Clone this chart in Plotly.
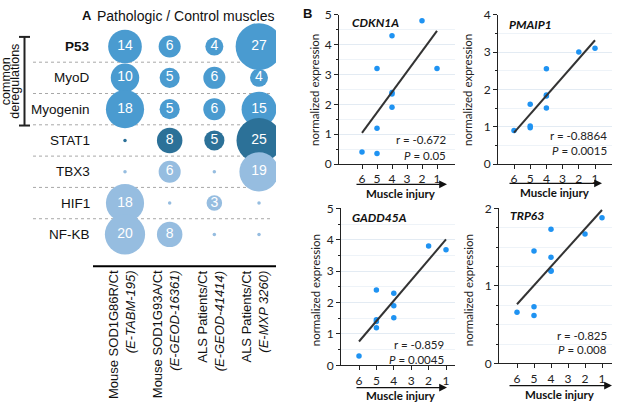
import numpy as np
import plotly.graph_objects as go

W, H = 617, 409

# ---------------- Panel A data ----------------
genes = ["P53", "MyoD", "Myogenin", "STAT1", "TBX3", "HIF1", "NF-KB"]
dataset_names = ["Mouse SOD1G86R/Ct", "Mouse SOD1G93A/Ct", "ALS Patients/Ct", "ALS Patients/Ct"]
dataset_ids = ["(E-TABM-195)", "(E-GEOD-16361)", "(E-GEOD-41414)", "(E-MXP 3260)"]
p53_counts = [14, 6, 4, 27]
myod_counts = [10, 5, 6, 4]
myogenin_counts = [18, 5, 6, 15]
stat1_counts = [0, 8, 5, 25]
tbx3_counts = [0, 6, 0, 19]
hif1_counts = [18, 0, 3, 0]
nfkb_counts = [20, 8, 0, 0]
counts = [p53_counts, myod_counts, myogenin_counts, stat1_counts,
          tbx3_counts, hif1_counts, nfkb_counts]
row_colors = ["#4a9bd0", "#4a9bd0", "#4a9bd0", "#2c7198", "#96bde0", "#96bde0", "#96bde0"]

# ---------------- Panel B data ----------------
cdkn1a_injury = [6, 5, 5, 5, 4, 4, 4, 4, 2, 1]
cdkn1a_expr = [0.4, 0.35, 1.2, 3.2, 4.3, 2.4, 2.35, 1.9, 4.8, 3.2]
pmaip1_injury = [6, 5, 5, 5, 4, 4, 4, 4, 2, 1]
pmaip1_expr = [0.9, 1.6, 1.02, 0.97, 2.55, 1.85, 1.82, 1.5, 3.0, 3.1]
gadd45a_injury = [6, 5, 5, 5, 5, 4, 4, 4, 2, 1]
gadd45a_expr = [0.3, 2.4, 1.45, 1.4, 1.2, 2.3, 1.9, 1.52, 3.8, 3.68]
trp63_injury = [6, 5, 5, 5, 4, 4, 4, 4, 2, 1]
trp63_expr = [0.66, 1.45, 0.73, 0.62, 1.73, 1.37, 1.2, 1.19, 1.67, 1.88]
r_labels = ["r = -0.672", "r = -0.8864", "r = -0.859", "r = -0.825"]
p_labels = ["0.05", "0.0015", "0.0045", "0.008"]
gene_names_b = ["CDKN1A", "PMAIP1", "GADD45A", "TRP63"]
injury_ticks = [6, 5, 4, 3, 2, 1]


def px(p):
    return p / W


def py(p):
    return 1 - p / H


fig = go.Figure()
FA = "Liberation Sans, Arial, sans-serif"
FB = "Lato, Open Sans, sans-serif"

# ---------------- Panel A ----------------
row_step = 32.5
row0 = 40
ya_top, ya_bot = 0, 268
col0, col_step = 125, 44.67
xa_l, xa_r = 33, 276
xr = [(xa_l - col0) / col_step, (xa_r - col0) / col_step]
yr = [(ya_bot - row0) / row_step, (ya_top - row0) / row_step]

for i, row in enumerate(counts):
    xs = list(range(len(row)))
    ys = [i] * len(row)
    sizes = [9 * np.sqrt(v) if v > 0 else 3.5 for v in row]
    texts = [str(v) if v > 0 else "" for v in row]
    fig.add_trace(go.Scatter(
        x=xs, y=ys, mode="markers+text", text=texts,
        textposition="middle center",
        textfont=dict(color="white", size=14, family=FA),
        marker=dict(size=sizes, color=row_colors[i], line=dict(width=0), opacity=1),
        xaxis="x", yaxis="y", showlegend=False, hoverinfo="skip"))

fig.update_layout(
    xaxis=dict(domain=[px(xa_l), px(xa_r)], range=xr, visible=False, fixedrange=True),
    yaxis=dict(domain=[py(ya_bot), py(ya_top)], range=yr, visible=False, fixedrange=True),
)

shapes = []
annotations = []
x_dot_l = (33 - col0) / col_step
x_dot_r = (273 - col0) / col_step
for k in range(len(genes) - 1):
    shapes.append(dict(type="line", xref="x", yref="y", x0=x_dot_l, x1=x_dot_r,
                       y0=k + 0.5, y1=k + 0.5, layer="below",
                       line=dict(color="#a8a8a8", width=1, dash="dot")))
for i, g in enumerate(genes):
    txt = "<b>%s</b>" % g if g == "P53" else g
    annotations.append(dict(text=txt, xref="paper", yref="y", x=px(92), y=i,
                            xanchor="right", yanchor="middle", showarrow=False,
                            font=dict(size=13.5, family=FA, color="#111")))
for j in range(len(dataset_names)):
    annotations.append(dict(text="%s<br><i>%s</i>" % (dataset_names[j], dataset_ids[j]),
                            xref="x", yref="paper", x=j - 0.08, y=py(270),
                            xanchor="center", yanchor="top", textangle=-90, align="right",
                            showarrow=False, font=dict(size=13, family=FA, color="#111")))
# bottom rule
shapes.append(dict(type="line", xref="paper", yref="paper", x0=px(93), x1=px(276),
                   y0=py(268), y1=py(268), line=dict(color="black", width=2)))
# bracket
shapes.append(dict(type="line", xref="paper", yref="paper", x0=px(24.5), x1=px(24.5),
                   y0=py(30), y1=py(122), line=dict(color="#222", width=2)))
for yy in (30, 122):
    shapes.append(dict(type="line", xref="paper", yref="paper", x0=px(19), x1=px(30),
                       y0=py(yy), y1=py(yy), line=dict(color="#222", width=2)))
annotations.append(dict(text="common", xref="paper", yref="paper",
                        x=px(6), y=py(76), textangle=-90, showarrow=False,
                        xanchor="center", yanchor="middle",
                        font=dict(size=12.5, family=FA, color="#111")))
annotations.append(dict(text="deregulations", xref="paper", yref="paper",
                        x=px(15.5), y=py(76), textangle=-90, showarrow=False,
                        xanchor="center", yanchor="middle",
                        font=dict(size=12.5, family=FA, color="#111")))
annotations.append(dict(text="<b>A</b>", xref="paper", yref="paper", x=px(87), y=py(8),
                        xanchor="center", yanchor="middle", showarrow=False,
                        font=dict(size=13, family=FA, color="#111")))
annotations.append(dict(text="Pathologic / Control muscles", xref="paper", yref="paper",
                        x=px(185), y=py(8), xanchor="center", yanchor="middle",
                        showarrow=False, font=dict(size=14, family=FA, color="#111")))

# ---------------- Panel B ----------------
panels = [
    dict(xd=(339, 455), yd=(7, 162), xpos6=362, xpos1=437, ymax=5, minor=0.5,
         x=cdkn1a_injury, y=cdkn1a_expr, title_y=85, ytitle_x=315,
         lab=(350, 15), rp=(448, 137, 153), arrow=(355, 447, 183), mi=193),
    dict(xd=(498, 612), yd=(7, 162), xpos6=514, xpos1=595, ymax=4, minor=0.5,
         x=pmaip1_injury, y=pmaip1_expr, title_y=85, ytitle_x=468,
         lab=(507, 17), rp=(609, 132, 148), arrow=(508, 602, 182), mi=192),
    dict(xd=(341, 455), yd=(208, 371), xpos6=359, xpos1=446, ymax=5, minor=0.5,
         x=gadd45a_injury, y=gadd45a_expr, title_y=293, ytitle_x=315,
         lab=(350, 217), rp=(446, 349.5, 365), arrow=(355, 447, 394), mi=402),
    dict(xd=(499, 612), yd=(208, 369), xpos6=517, xpos1=602, ymax=2, minor=0.25,
         x=trp63_injury, y=trp63_expr, title_y=293, ytitle_x=468,
         lab=(508, 215), rp=(609, 339.5, 355), arrow=(508, 612, 392), mi=401),
]

for k, p in enumerate(panels):
    n = k + 2
    xa, ya = "x%d" % n, "y%d" % n
    scale = (p["xpos1"] - p["xpos6"]) / 5.0
    xl = 6 + (p["xpos6"] - p["xd"][0]) / scale
    xrr = 1 - (p["xd"][1] - p["xpos1"]) / scale
    fig.add_trace(go.Scatter(x=p["x"], y=p["y"], mode="markers",
                             marker=dict(color="#1f93f2", size=5.5),
                             xaxis=xa, yaxis=ya, showlegend=False, hoverinfo="skip"))
    slope, icpt = np.polyfit(p["x"], p["y"], 1)
    lx = np.array([6, 1])
    fig.add_trace(go.Scatter(x=lx, y=slope * lx + icpt, mode="lines",
                             line=dict(color="#333333", width=2),
                             xaxis=xa, yaxis=ya, showlegend=False, hoverinfo="skip"))
    fig.layout["xaxis%d" % n] = dict(
        domain=[px(p["xd"][0]), px(p["xd"][1])], range=[xl, xrr], anchor=ya,
        tickvals=injury_ticks, ticks="outside", ticklen=4, tickcolor="#222",
        showline=True, linecolor="#222", linewidth=1, showgrid=False, zeroline=False,
        tickfont=dict(size=12, family=FB, color="#222"), fixedrange=True)
    fig.layout["yaxis%d" % n] = dict(
        domain=[py(p["yd"][1]), py(p["yd"][0])], range=[0, p["ymax"]], anchor=xa,
        dtick=1, ticks="outside", ticklen=4, tickcolor="#222",
        showline=True, linecolor="#222", linewidth=1, zeroline=False,
        showgrid=True, gridcolor="#e3ebf3", gridwidth=1,
        minor=dict(dtick=p["minor"], ticks="outside", ticklen=2, tickcolor="#222",
                   showgrid=True, gridcolor="#eef3f8"),
        tickfont=dict(size=12, family=FB, color="#222"), fixedrange=True)
    annotations.append(dict(text="normalized expression", xref="paper", yref="paper",
                            x=px(p["ytitle_x"]), y=py(p["title_y"]), textangle=-90,
                            showarrow=False, xanchor="center", yanchor="middle",
                            font=dict(size=11.5, family=FB, color="#222")))
    annotations.append(dict(text="<b><i>%s</i></b>" % gene_names_b[k], xref="paper",
                            yref="paper", x=px(p["lab"][0]), y=py(p["lab"][1]),
                            xanchor="left", yanchor="middle", showarrow=False,
                            font=dict(size=12, family=FB, color="#111")))
    annotations.append(dict(text=r_labels[k], xref="paper", yref="paper",
                            x=px(p["rp"][0]), y=py(p["rp"][1]), xanchor="right",
                            yanchor="middle", showarrow=False,
                            font=dict(size=11.5, family=FB, color="#222")))
    annotations.append(dict(text="<i>P</i> = %s" % p_labels[k], xref="paper", yref="paper",
                            x=px(p["rp"][0]), y=py(p["rp"][2]), xanchor="right",
                            yanchor="middle", showarrow=False,
                            font=dict(size=11.5, family=FB, color="#222")))
    a0, a1, ay_ = p["arrow"]
    annotations.append(dict(text="", xref="paper", yref="paper", x=px(a1), y=py(ay_),
                            ax=-(a1 - a0), ay=0, showarrow=True, arrowhead=2,
                            arrowsize=1.2, arrowwidth=1.3, arrowcolor="#111"))
    annotations.append(dict(text="<b>Muscle injury</b>", xref="paper", yref="paper",
                            x=px((a0 + a1) / 2), y=py(p["mi"]), xanchor="center",
                            yanchor="middle", showarrow=False,
                            font=dict(size=11.5, family=FB, color="#111")))

annotations.append(dict(text="<b>B</b>", xref="paper", yref="paper", x=px(307), y=py(6),
                        xanchor="center", yanchor="middle", showarrow=False,
                        font=dict(size=13, family=FA, color="#111")))

fig.update_layout(width=W, height=H, margin=dict(l=0, r=0, t=0, b=0),
                  paper_bgcolor="white", plot_bgcolor="white",
                  shapes=shapes, annotations=annotations, showlegend=False)

fig.write_html("out.html", config={"displayModeBar": False, "staticPlot": True},
               post_script="document.body.style.margin='0';document.body.style.overflow='hidden';")
